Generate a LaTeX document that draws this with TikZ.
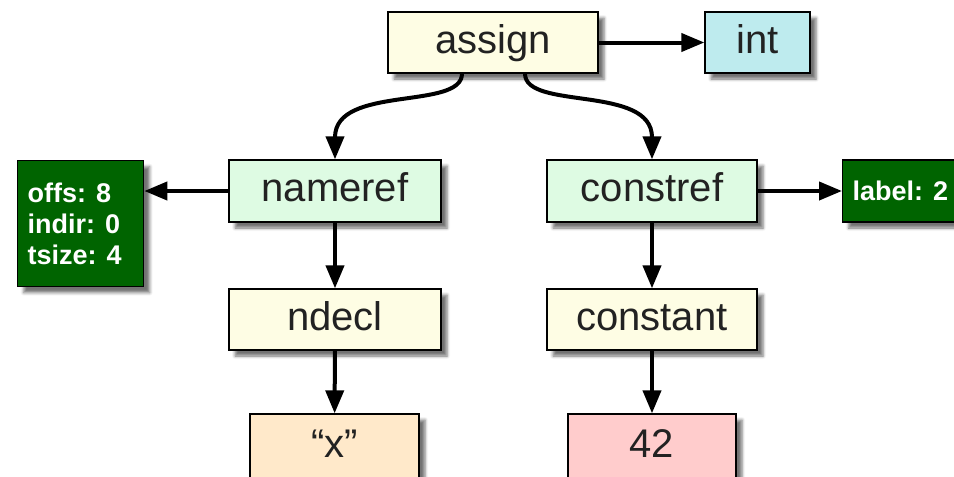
\documentclass[tikz,border=0pt]{standalone}
\usepackage{fontspec}
\setmainfont{Liberation Sans}
\usetikzlibrary{arrows.meta,shadows.blur}

\definecolor{txt}{HTML}{222222}
\definecolor{yel}{HTML}{FEFDE4}
\definecolor{cyanish}{HTML}{BEEBEE}
\definecolor{mint}{HTML}{DEFBE3}
\definecolor{darkgreen}{HTML}{006400}
\definecolor{peach}{HTML}{FFE9CA}
\definecolor{pinkish}{HTML}{FFCCCC}

\tikzset{
  box/.style={draw=black, line width=1.3pt, inner sep=0pt, text=txt,
    font=\fontsize{40}{40}\selectfont, text height=29pt, text depth=8pt,
    blur shadow={shadow xshift=6pt, shadow yshift=-6pt, shadow blur radius=3pt, shadow opacity=55}},
  info/.style={draw=black, line width=1.3pt, fill=darkgreen, text=white,
    font=\fontsize{27}{31}\selectfont\bfseries,
    blur shadow={shadow xshift=6pt, shadow yshift=-6pt, shadow blur radius=3pt, shadow opacity=55}},
  link/.style={line width=4pt, -{Triangle[length=23pt,width=18pt]}}
}

\begin{document}
\begin{tikzpicture}[x=1pt,y=-1pt]
\useasboundingbox (0,0) rectangle (954,477);

% tree nodes
\node[box, fill=yel, minimum width=210pt, minimum height=61pt] (assign) at (493,42.5) {assign};
\node[box, fill=cyanish, minimum width=105pt, minimum height=61pt] (int) at (757.5,42.5) {int};
\node[box, fill=mint, minimum width=212pt, minimum height=62pt] (nameref) at (335,191) {nameref};
\node[box, fill=mint, minimum width=210pt, minimum height=62pt] (constref) at (652,191) {constref};
\node[box, fill=yel, minimum width=212pt, minimum height=61pt] (ndecl) at (335,319.5) {ndecl};
\node[box, fill=yel, minimum width=210pt, minimum height=61pt] (constant) at (652,319.5) {constant};
\node[box, fill=peach, minimum width=169pt, minimum height=66pt] (strx) at (334.5,447) {“x”};
\node[box, fill=pinkish, minimum width=168pt, minimum height=66pt] (num) at (652,447) {42};

% attribute boxes
\node[info, minimum width=126pt, minimum height=126pt, inner xsep=10pt, text width=106pt,
      align=flush left, anchor=north west] (offs) at (17,160) {offs: 8\\indir: 0\\tsize: 4};
\node[info, minimum width=125pt, minimum height=62pt, inner xsep=10pt, text width=105pt,
      align=flush left, anchor=west] (lbl) at (842,191) {label: 2};

% connectors
\draw[link] (assign) -- (int);
\draw[link] ([xshift=-31pt]assign.south) .. controls +(0,37) and +(0,-75) .. (nameref.north);
\draw[link] ([xshift=32pt]assign.south) .. controls +(0,37) and +(0,-75) .. (constref.north);
\draw[link] (nameref) -- (offs.east |- nameref);
\draw[link] (constref) -- (lbl);
\draw[link] (nameref) -- (ndecl);
\draw[link] (constref) -- (constant);
\draw[link] (ndecl) -- (strx);
\draw[link] (constant) -- (num);
\end{tikzpicture}
\end{document}
